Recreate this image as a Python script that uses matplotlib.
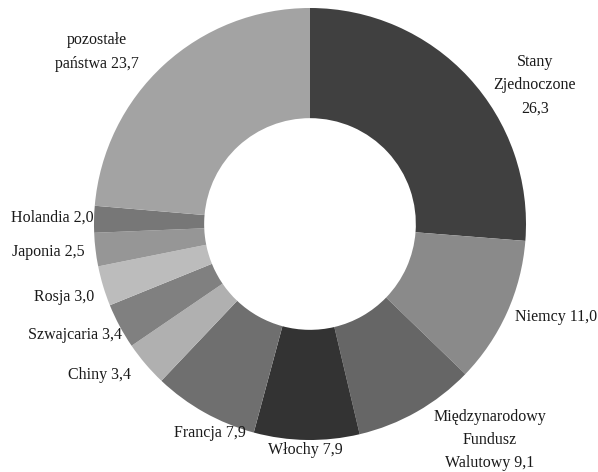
import matplotlib
matplotlib.use("Agg")
import matplotlib.pyplot as plt

labels = ["Stany\nZjednoczone\n26,3", "Niemcy 11,0", "Międzynarodowy\nFundusz\nWalutowy 9,1",
          "Włochy 7,9", "Francja 7,9", "Chiny 3,4", "Szwajcaria 3,4", "Rosja 3,0",
          "Japonia 2,5", "Holandia 2,0", "pozostałe\npaństwa 23,7"]
values = [26.3, 11.0, 9.1, 7.9, 7.9, 3.4, 3.4, 3.0, 2.5, 2.0, 23.7]
colors = ["#404040", "#8a8a8a", "#666666", "#333333", "#6f6f6f", "#b0b0b0",
          "#808080", "#bcbcbc", "#969696", "#777777", "#a3a3a3"]

# label anchor positions (pixels, y measured from top) and alignment
label_pos = [(535, 85, "center"), (515, 317, "left"), (490, 440, "center"),
             (305, 450, "center"), (246, 433, "right"), (131, 375, "right"),
             (122, 335, "right"), (94, 297, "right"), (85, 252, "right"),
             (94, 218, "right"), (97, 52, "center")]

W, H = 598, 472
plt.rcParams['font.family'] = ['Liberation Serif', 'DejaVu Serif']
fig = plt.figure(figsize=(W/100, H/100), dpi=100)
ax = fig.add_axes([0, 0, 1, 1])
ax.set_xlim(0, W)
ax.set_ylim(0, H)
ax.set_aspect('equal')
ax.axis('off')

cx, cy, R = 310, H - 224, 216
wedges, _ = ax.pie(values, colors=colors, startangle=90, counterclock=False,
                   radius=R, center=(cx, cy), frame=True,
                   wedgeprops=dict(width=R * 0.51, linewidth=0))
ax.set_xlim(0, W)
ax.set_ylim(0, H)
ax.axis('off')

for lab, (x, y, ha) in zip(labels, label_pos):
    ax.text(x, H - y, lab, ha=ha, va='center', fontsize=11.5, color='#1a1a1a',
            multialignment='center', linespacing=1.6)

fig.savefig("out.png", dpi=100)
